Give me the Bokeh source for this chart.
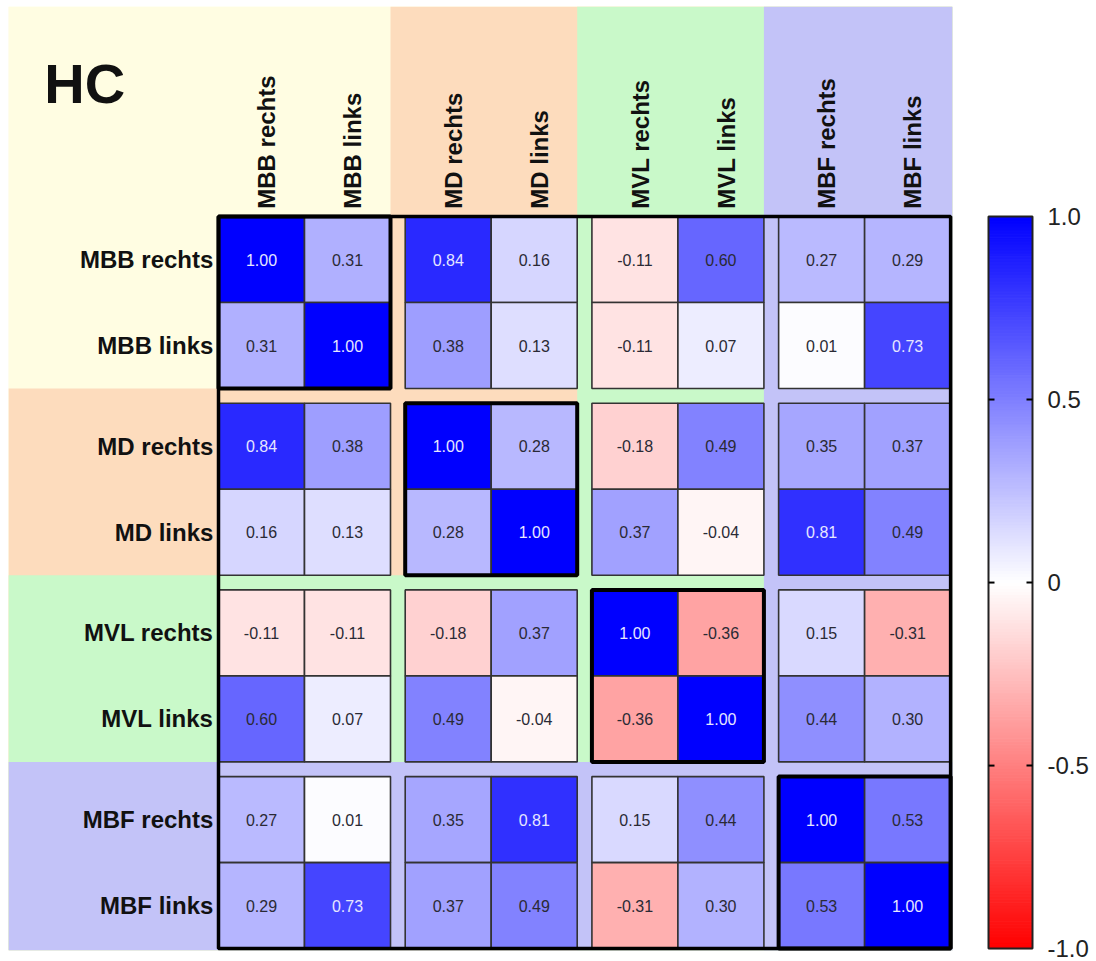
import numpy as np
from bokeh.plotting import figure
from bokeh.models import Range1d, LinearAxis, FixedTicker, CustomJSTickFormatter, ColumnDataSource
from bokeh.core.properties import value
from bokeh.embed import file_html
from bokeh.resources import INLINE

# ---- data -------------------------------------------------------------
title = "HC"
labels = ["MBB rechts", "MBB links", "MD rechts", "MD links",
          "MVL rechts", "MVL links", "MBF rechts", "MBF links"]
groups = ["MBB", "MD", "MVL", "MBF"]
group_colors = ["#fffde2", "#fddcbd", "#c9f9c9", "#c3c3f8"]

mbb_rechts = [1.00, 0.31, 0.84, 0.16, -0.11, 0.60, 0.27, 0.29]
mbb_links = [0.31, 1.00, 0.38, 0.13, -0.11, 0.07, 0.01, 0.73]
md_rechts = [0.84, 0.38, 1.00, 0.28, -0.18, 0.49, 0.35, 0.37]
md_links = [0.16, 0.13, 0.28, 1.00, 0.37, -0.04, 0.81, 0.49]
mvl_rechts = [-0.11, -0.11, -0.18, 0.37, 1.00, -0.36, 0.15, -0.31]
mvl_links = [0.60, 0.07, 0.49, -0.04, -0.36, 1.00, 0.44, 0.30]
mbf_rechts = [0.27, 0.01, 0.35, 0.81, 0.15, 0.44, 1.00, 0.53]
mbf_links = [0.29, 0.73, 0.37, 0.49, -0.31, 0.30, 0.53, 1.00]
corr = [mbb_rechts, mbb_links, md_rechts, md_links,
        mvl_rechts, mvl_links, mbf_rechts, mbf_links]

colorbar_ticks = [-1.0, -0.5, 0.0, 0.5, 1.0]

# ---- layout (one data unit = one cell) ---------------------------------
PX = 86.0              # pixels per cell
GAP = 0.171            # gap between 2x2 blocks, in cells
W, H = 1096, 961
RIGHT_BORDER = 60
ORIGIN_X, ORIGIN_Y = 218, 216   # matrix top-left on the page
SPAN = 8 + 3 * GAP
BAND_START = -2.44
BAND_END = SPAN + 0.02


def pos(i):
    return i + 0.5 + GAP * (i // 2)


def rwb(v):
    if v >= 0:
        c = int(round(255 * (1 - v)))
        return "#%02x%02x%02x" % (c, c, 255)
    c = int(round(255 * (1 + v)))
    return "#%02x%02x%02x" % (255, c, c)


frame_w = W - RIGHT_BORDER
x_range = Range1d(-ORIGIN_X / PX, (frame_w - ORIGIN_X) / PX)
y_range = Range1d((H - ORIGIN_Y) / PX, -ORIGIN_Y / PX)

p = figure(width=W, height=H, x_range=x_range, y_range=y_range,
           x_axis_type=None, y_axis_type=None,
           output_backend="svg", toolbar_location=None,
           min_border_left=0, min_border_top=0, min_border_bottom=0,
           min_border_right=RIGHT_BORDER)
p.grid.visible = False
p.outline_line_color = None
p.background_fill_color = "white"
p.border_fill_color = "white"

# colour-bar value range sharing the matrix's vertical extent
cb_start = 1 - 2 * y_range.start / SPAN
cb_end = 1 - 2 * y_range.end / SPAN
p.extra_y_ranges = {"cb": Range1d(cb_start, cb_end)}

# ---- group background bands ------------------------------------------
# each group paints its column strip and its row strip; later groups
# overlay earlier ones, so a gap takes the colour of the later group
for k, col in enumerate(group_colors):
    lo = BAND_START if k == 0 else 2 * k + (k - 1) * GAP
    p.quad(left=[lo, BAND_START], right=[BAND_END, BAND_END],
           top=[BAND_START, lo], bottom=[BAND_END, BAND_END],
           fill_color=col, line_color=None)

# ---- cells -------------------------------------------------------------
xs, ys, fills, texts, tcols = [], [], [], [], []
for i, row in enumerate(corr):
    for j, v in enumerate(row):
        xs.append(pos(j))
        ys.append(pos(i))
        fills.append(rwb(v))
        texts.append(f"{v:.2f}")
        tcols.append("#e6e6ff" if v >= 0.7 else "#2a2a35")
src = ColumnDataSource(dict(x=xs, y=ys, fill=fills, text=texts, tcol=tcols))

p.rect(x="x", y="y", width=1, height=1, source=src,
       fill_color="fill", line_color="#333333", line_width=1.6)
p.text(x="x", y="y", text="text", source=src, text_color="tcol",
       text_font=value("Liberation Sans"), text_font_size="16px",
       text_align="center", text_baseline="middle")

# diagonal blocks and outer frame
centers = [2 * k + 1 + k * GAP for k in range(len(groups))]
p.rect(x=centers, y=centers, width=2, height=2, fill_color=None,
       line_color="black", line_width=4)
p.rect(x=[SPAN / 2], y=[SPAN / 2], width=SPAN, height=SPAN,
       fill_color=None, line_color="black", line_width=3.5)

# ---- labels ------------------------------------------------------------
p.text(x=[-0.06] * len(labels), y=[pos(i) for i in range(len(labels))],
       text=labels, text_font=value("Liberation Sans"),
       text_font_style="bold", text_font_size="24px", text_color="#111111",
       text_align="right", text_baseline="middle")
p.text(x=[pos(j) + 0.06 for j in range(len(labels))], y=[-0.09] * len(labels),
       text=labels, angle=np.pi / 2, text_font=value("Liberation Sans"),
       text_font_style="bold", text_font_size="24px", text_color="#111111",
       text_align="left", text_baseline="middle")
p.text(x=[-2.025], y=[-1.545], text=[title], text_font=value("Liberation Sans"),
       text_font_style="bold", text_font_size="56px", text_color="#111111",
       text_align="left", text_baseline="alphabetic")

# ---- colour bar ----------------------------------------------------------
cb_left = (988 - ORIGIN_X) / PX
cb_right = (1032 - ORIGIN_X) / PX
levels = np.linspace(-1, 1, 241)
mids = (levels[:-1] + levels[1:]) / 2
cb_cols = [rwb(v) for v in mids]
p.quad(left=cb_left, right=cb_right, bottom=levels[:-1], top=levels[1:],
       fill_color=cb_cols, line_color=cb_cols, line_width=1,
       y_range_name="cb")
p.quad(left=[cb_left], right=[cb_right], bottom=[-1], top=[1],
       fill_color=None, line_color="#222222", line_width=2, y_range_name="cb")
inner = [t for t in colorbar_ticks if -1 < t < 1]
tick_len = 6 / PX
p.segment(x0=[cb_left] * len(inner), x1=[cb_left + tick_len] * len(inner),
          y0=inner, y1=inner, line_color="black", line_width=2, y_range_name="cb")
p.segment(x0=[cb_right - tick_len] * len(inner), x1=[cb_right] * len(inner),
          y0=inner, y1=inner, line_color="black", line_width=2, y_range_name="cb")

cb_axis = LinearAxis(y_range_name="cb",
                     ticker=FixedTicker(ticks=colorbar_ticks),
                     formatter=CustomJSTickFormatter(
                         code="return tick === 0 ? '0' : tick.toFixed(1);"),
                     axis_line_color=None, major_tick_line_color=None,
                     minor_tick_line_color=None, major_tick_in=0,
                     major_tick_out=0, major_label_standoff=11,
                     major_label_text_font="Liberation Sans",
                     major_label_text_font_size="24px",
                     major_label_text_color="#222222")
p.add_layout(cb_axis, "right")

open("out.html", "w").write(file_html(p, INLINE))
